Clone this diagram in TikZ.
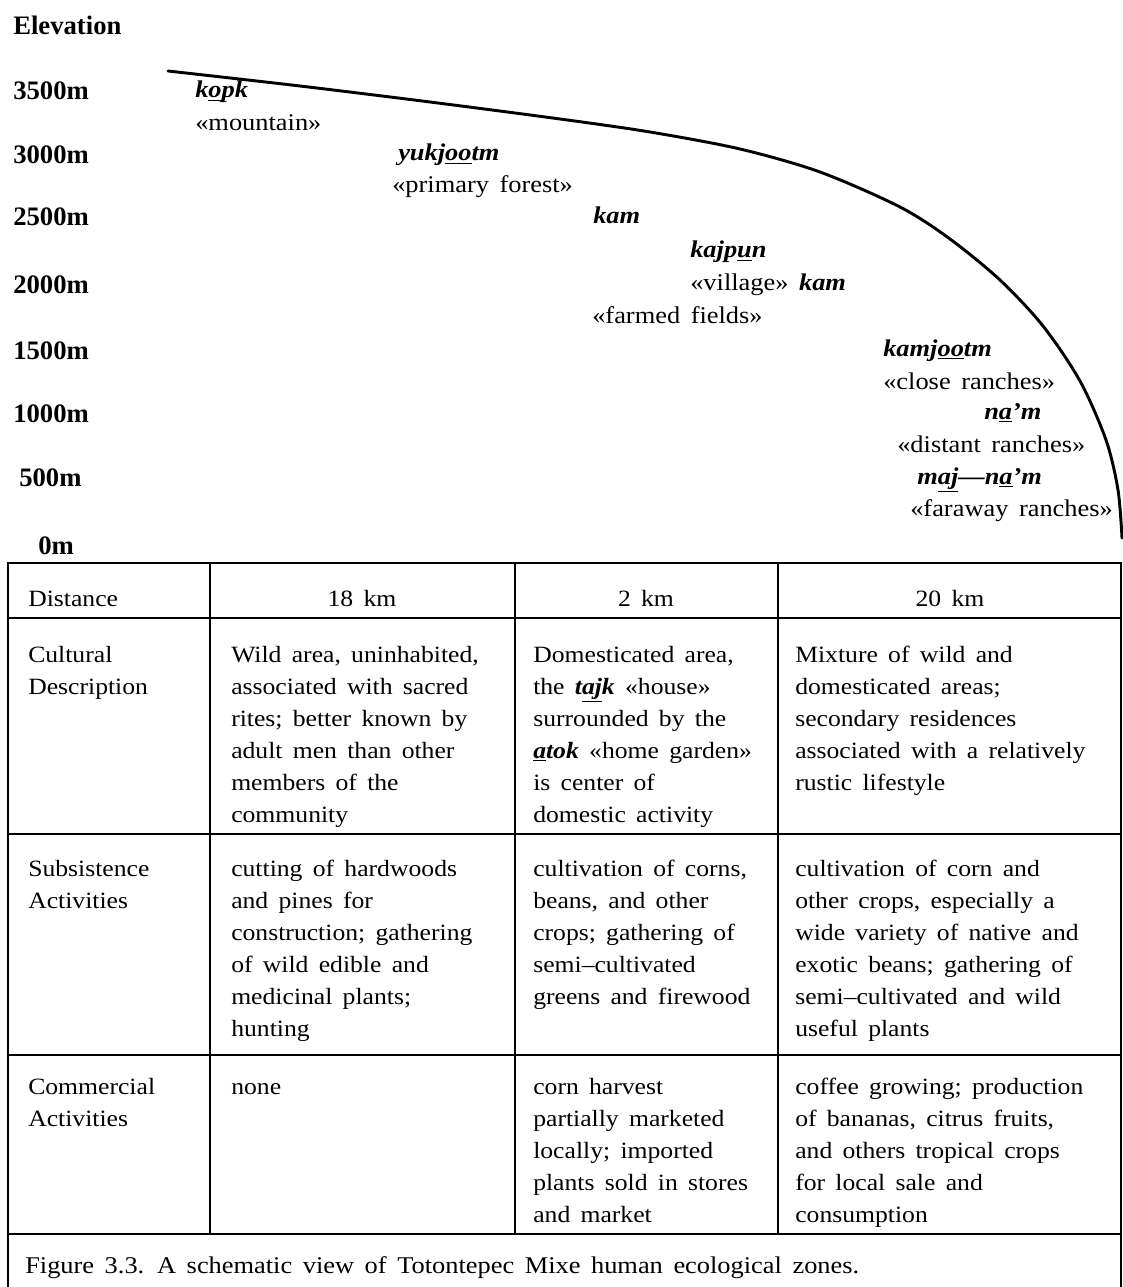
\documentclass[tikz,border=0pt]{standalone}
\usepackage{fontspec}
\setmainfont{Liberation Serif}[WordSpace=1.6,FakeStretch=1.1]
\newfontfamily\headfont{Liberation Serif}
\newcommand\mx[1]{\textbf{\textit{#1}}}
\begin{document}
\begin{tikzpicture}[x=0.75pt,y=-0.75pt,
  elev/.style={anchor=base west,inner sep=0,font=\headfont\fontsize{20}{24}\selectfont\bfseries},
  mixe/.style={anchor=base west,inner sep=0,font=\fontsize{18}{24}\selectfont\bfseries\itshape},
  gloss/.style={anchor=base west,inner sep=0,font=\fontsize{18}{24}\selectfont},
  cell/.style={anchor=base west,inner sep=0,align=left,font=\fontsize{17.5}{24}\selectfont},
  ctr/.style={anchor=base,inner sep=0,font=\fontsize{17.5}{24}\selectfont},
  grid/.style={line width=1.8pt},
  slope/.style={line width=2.2pt,line cap=round}]
\useasboundingbox (0,0) rectangle (1123,1287);

% elevation axis labels
\node[elev] (lElev) at (13,35) {Elevation};
\node[elev] (l3500) at (13,100) {3500m};
\node[elev] (l3000) at (13,164) {3000m};
\node[elev] (l2500) at (13,226) {2500m};
\node[elev] (l2000) at (13,294) {2000m};
\node[elev] (l1500) at (13,359) {1500m};
\node[elev] (l1000) at (13,422) {1000m};
\node[elev] (l500) at (19,486) {500m};
\node[elev] (l0) at (38,554) {0m};

% slope profile
\draw[slope] plot[smooth,tension=0.5] coordinates {(168,71) (300,86) (430,102) (560,119) (650,132) (740,149) (820,172) (900,207) (950,239) (1000,280) (1043,326) (1080,381) (1106,440) (1118,490) (1122,538)};

% zone names
\node[mixe] (kopk) at (195,98) {k\underline{o}pk};
\node[gloss] (mount) at (195,131) {«mountain»};
\node[mixe] (yuk) at (398,161) {yukj\underline{oo}tm};
\node[gloss] (forest) at (392,193) {«primary forest»};
\node[mixe] (kam1) at (593,224) {kam};
\node[mixe] (kajpun) at (690,258) {kajp\underline{u}n};
\node[gloss] (village) at (690,291) {«village» \mx{kam}};
\node[gloss] (farmed) at (592,324) {«farmed fields»};
\node[mixe] (kamj) at (883,356) {kamj\underline{oo}tm};
\node[gloss] (close) at (883,389) {«close ranches»};
\node[mixe] (nam) at (984,419) {n\underline{a}'m};
\node[gloss] (distant) at (897,452) {«distant ranches»};
\node[mixe] (majnam) at (917,484) {m\underline{aj}---n\underline{a}'m};
\node[gloss] (faraway) at (910,516) {«faraway ranches»};

% table grid
\draw[grid] (8,1287) -- (8,563) -- (1121,563) -- (1121,1287);
\foreach \yy in {618,834,1055,1234} \draw[grid] (8,\yy) -- (1121,\yy);
\foreach \xx in {210,515,778} \draw[grid] (\xx,563) -- (\xx,1234);

% header row
\node[cell] (hDist) at (28,606) {Distance};
\node[ctr] (h18) at (362,606) {18 km};
\node[ctr] (h2) at (646,606) {2 km};
\node[ctr] (h20) at (950,606) {20 km};

% cultural description (anchor at last line's baseline)
\node[cell] (cA) at (28,694) {Cultural\\Description};
\node[cell] (cB) at (231,822) {Wild area, uninhabited,\\associated with sacred\\rites; better known by\\adult men than other\\members of the\\community};
\node[cell] (cC) at (533,822) {Domesticated area,\\the \mx{t\underline{aj}k} «house»\\surrounded by the\\\mx{\underline{a}tok} «home garden»\\is center of\\domestic activity};
\node[cell] (cD) at (795,790) {Mixture of wild and\\domesticated areas;\\secondary residences\\associated with a relatively\\rustic lifestyle};

% subsistence activities
\node[cell] (sA) at (28,908) {Subsistence\\Activities};
\node[cell] (sB) at (231,1036) {cutting of hardwoods\\and pines for\\construction; gathering\\of wild edible and\\medicinal plants;\\hunting};
\node[cell] (sC) at (533,1004) {cultivation of corns,\\beans, and other\\crops; gathering of\\semi--cultivated\\greens and firewood};
\node[cell] (sD) at (795,1036) {cultivation of corn and\\other crops, especially a\\wide variety of native and\\exotic beans; gathering of\\semi--cultivated and wild\\useful plants};

% commercial activities
\node[cell] (mA) at (28,1126) {Commercial\\Activities};
\node[cell] (mB) at (231,1094) {none};
\node[cell] (mC) at (533,1222) {corn harvest\\partially marketed\\locally; imported\\plants sold in stores\\and market};
\node[cell] (mD) at (795,1222) {coffee growing; production\\of bananas, citrus fruits,\\and others tropical crops\\for local sale and\\consumption};

% caption
\node[cell,font=\fontsize{18}{24}\selectfont] (cap) at (25,1273) {Figure 3.3. A schematic view of Totontepec Mixe human ecological zones.};
\end{tikzpicture}
\end{document}
